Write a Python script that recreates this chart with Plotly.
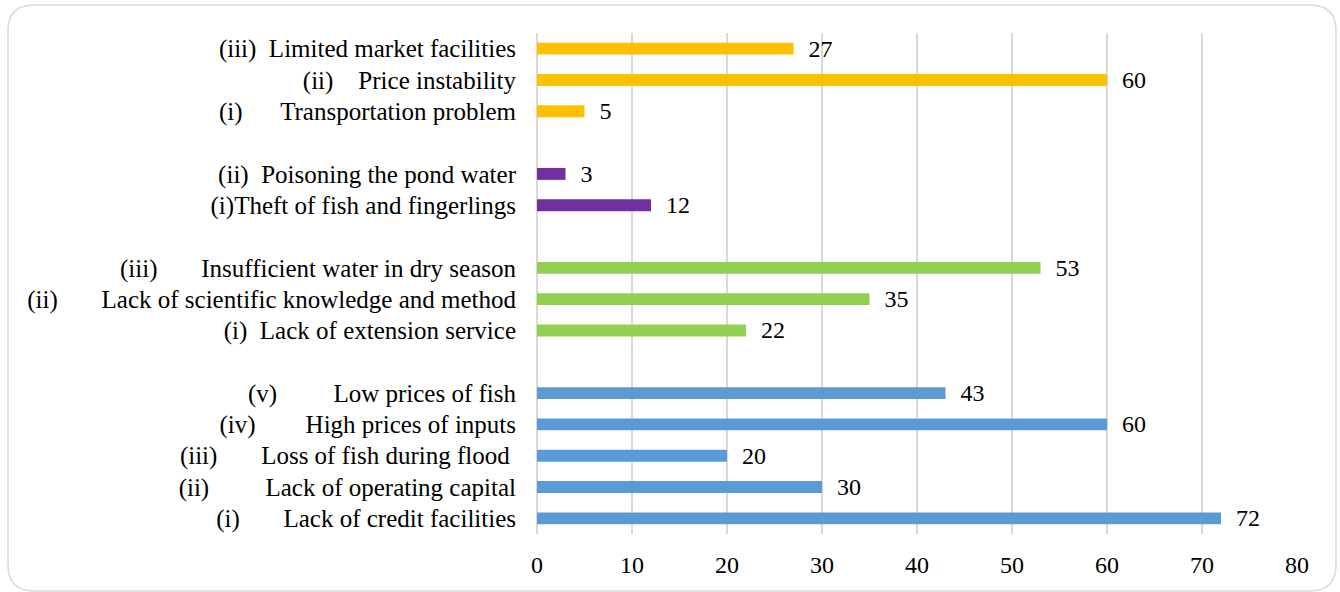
import plotly.graph_objects as go

NB = "\u00a0"

def lab(prefix, gap, text, trail=0):
    return prefix + NB * gap + text + NB * trail

# Group 1 (blue) bottom to top
blue_labels = [lab("(i)", 7, "Lack of credit facilities"),
               lab("(ii)", 9, "Lack of operating capital"),
               lab("(iii)", 7, "Loss of fish during flood", 1),
               lab("(iv)", 8, "High prices of inputs"),
               lab("(v)", 9, "Low prices of fish")]
blue_values = [72, 30, 20, 60, 43]

green_labels = [lab("(i)", 2, "Lack of extension service"),
                lab("(ii)", 7, "Lack of scientific knowledge and method"),
                lab("(iii)", 7, "Insufficient water in dry season")]
green_values = [22, 35, 53]

purple_labels = ["(i)Theft of fish and fingerlings",
                 lab("(ii)", 2, "Poisoning the pond water")]
purple_values = [12, 3]

yellow_labels = [lab("(i)", 6, "Transportation problem"),
                 lab("(ii)", 4, "Price instability"),
                 lab("(iii)", 2, "Limited market facilities")]
yellow_values = [5, 60, 27]

gap1, gap2, gap3 = "\u200b", "\u200b\u200b", "\u200b\u200b\u200b"
category_order = (blue_labels + [gap1] + green_labels + [gap2] +
                  purple_labels + [gap3] + yellow_labels)
label_ticks = blue_labels + green_labels + purple_labels + yellow_labels

x_ticks = [0, 10, 20, 30, 40, 50, 60, 70, 80]

FONT = "Liberation Serif"
W, H = 1340, 592
L, R, T, B = 537, 1297, 33, 534

fig = go.Figure()
for labels, values, color in [(blue_labels, blue_values, "#5B9BD5"),
                              (green_labels, green_values, "#92D050"),
                              (purple_labels, purple_values, "#7030A0"),
                              (yellow_labels, yellow_values, "#FFC000")]:
    fig.add_trace(go.Bar(
        y=labels, x=values, orientation="h", marker_color=color,
        marker_line_width=0, width=0.38,
        text=values, texttemplate=NB * 2 + "%{x}", textposition="outside",
        constraintext="none",
        textfont=dict(family=FONT, size=24, color="#000000"),
        cliponaxis=False, showlegend=False, hoverinfo="x+y"))

def px2paper(x, y):
    return (x - L) / (R - L), (B - y) / (B - T)

def rounded_rect(x0, y0, x1, y1, r):
    pts = []
    def P(cmd, *coords):
        out = []
        for i in range(0, len(coords), 2):
            px, py = px2paper(coords[i], coords[i + 1])
            out.append(f"{px:.5f},{py:.5f}")
        pts.append(cmd + " " + " ".join(out))
    P("M", x0 + r, y0)
    P("L", x1 - r, y0)
    P("Q", x1, y0, x1, y0 + r)
    P("L", x1, y1 - r)
    P("Q", x1, y1, x1 - r, y1)
    P("L", x0 + r, y1)
    P("Q", x0, y1, x0, y1 - r)
    P("L", x0, y0 + r)
    P("Q", x0, y0, x0 + r, y0)
    return " ".join(pts) + " Z"

fig.add_shape(type="path", xref="paper", yref="paper",
              path=rounded_rect(8, 5, 1336, 591, 26),
              line=dict(color="#D9D9D9", width=1.5), layer="below")

fig.update_layout(
    width=W, height=H,
    margin=dict(l=L, r=W - R, t=T, b=H - B),
    paper_bgcolor="white", plot_bgcolor="white",
    barmode="overlay",
    font=dict(family=FONT, size=25, color="#000000"),
    xaxis=dict(range=[0, 80], tickvals=x_ticks, showgrid=True,
               gridcolor="#D9D9D9", gridwidth=2, zeroline=True,
               zerolinecolor="#D9D9D9", zerolinewidth=2, showline=False,
               ticks="", ticklabelstandoff=14,
               tickfont=dict(family=FONT, size=24, color="#000000")),
    yaxis=dict(type="category", categoryorder="array",
               categoryarray=category_order, range=[-0.5, len(category_order) - 0.5],
               tickmode="array", tickvals=label_ticks, ticktext=label_ticks,
               showgrid=False, zeroline=False, showline=False, ticks="",
               ticklabelstandoff=20,
               tickfont=dict(family=FONT, size=25, color="#000000")),
)

fig.write_html("out.html", config={"displayModeBar": False},
               post_script="document.body.style.margin='0px';")
